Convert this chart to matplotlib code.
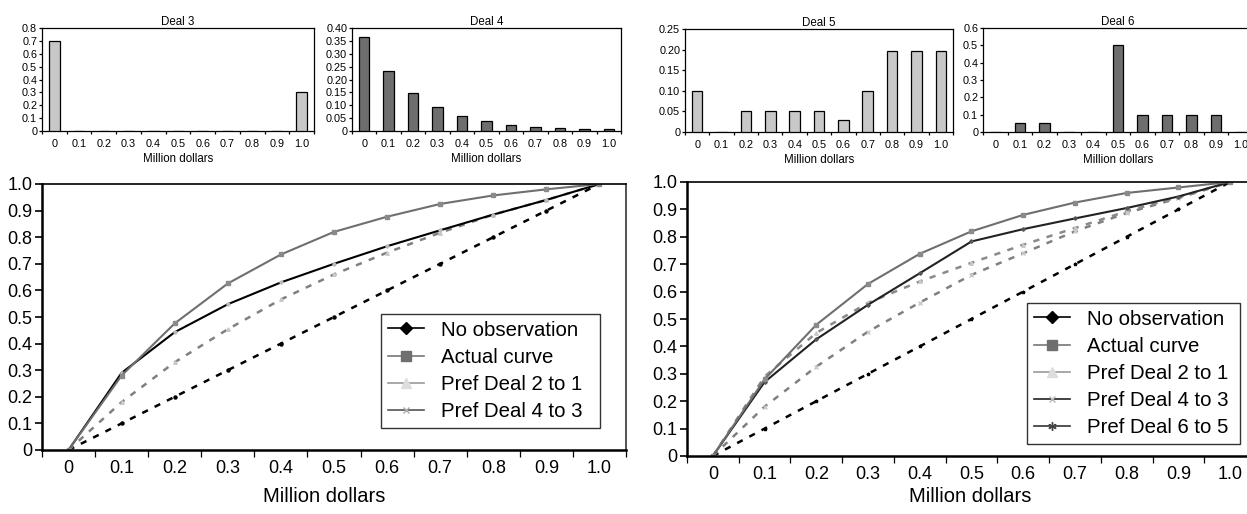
import matplotlib
matplotlib.use("Agg")
import matplotlib.pyplot as plt
from matplotlib.lines import Line2D
import numpy as np

plt.rcParams['font.family'] = ['Liberation Sans', 'DejaVu Sans']

W, H = 1247, 514

categories = ["0", "0.1", "0.2", "0.3", "0.4", "0.5", "0.6", "0.7", "0.8", "0.9", "1.0"]

# Probability distributions of the deals
deal3 = [0.70, 0, 0, 0, 0, 0, 0, 0, 0, 0, 0.30]
deal4 = [0.365, 0.234, 0.147, 0.093, 0.060, 0.038, 0.024, 0.016, 0.010, 0.007, 0.007]
deal5 = [0.10, 0, 0.05, 0.05, 0.05, 0.05, 0.03, 0.10, 0.197, 0.197, 0.197]
deal6 = [0, 0.05, 0.05, 0, 0, 0.50, 0.10, 0.10, 0.10, 0.10, 0]

# Utility curves, left panel
left_no_obs = [0, 0.29, 0.443, 0.548, 0.630, 0.700, 0.766, 0.826, 0.885, 0.940, 1.0]
left_actual = [0, 0.28, 0.476, 0.626, 0.735, 0.820, 0.877, 0.925, 0.957, 0.980, 1.0]
left_pref21 = [0, 0.18, 0.330, 0.454, 0.566, 0.660, 0.742, 0.817, 0.885, 0.940, 1.0]
left_pref43 = [0, 0.1, 0.2, 0.3, 0.4, 0.5, 0.6, 0.7, 0.8, 0.9, 1.0]

# Utility curves, right panel
right_no_obs = [0, 0.27, 0.426, 0.552, 0.667, 0.783, 0.828, 0.867, 0.905, 0.947, 1.0]
right_actual = [0, 0.28, 0.479, 0.628, 0.738, 0.820, 0.880, 0.925, 0.960, 0.980, 1.0]
right_pref21 = [0, 0.29, 0.449, 0.559, 0.637, 0.705, 0.771, 0.832, 0.893, 0.945, 1.0]
right_pref43 = [0, 0.18, 0.326, 0.454, 0.560, 0.661, 0.740, 0.820, 0.887, 0.941, 1.0]
right_pref65 = [0, 0.1, 0.2, 0.3, 0.4, 0.5, 0.6, 0.7, 0.8, 0.9, 1.0]

fig = plt.figure(figsize=(W / 100, H / 100), dpi=100)


def box(x0, y0, x1, y1):
    return [x0 / W, 1 - y1 / H, (x1 - x0) / W, (y1 - y0) / H]


def category_axis(ax, fs, ticklen, pad):
    n = len(categories)
    ax.set_xlim(-0.5, n - 0.5)
    ax.set_xticks(np.arange(n))
    ax.set_xticklabels(categories, fontsize=fs)
    ax.set_xticks(np.arange(-0.5, n, 1.0), minor=True)
    ax.tick_params(axis='x', which='major', length=0, pad=pad)
    ax.tick_params(axis='x', which='minor', length=ticklen, width=0.9, direction='out')


def bar_panel(rect, values, color, title, ymax, ystep, fmt):
    ax = fig.add_axes(box(*rect))
    x = np.arange(len(categories))
    ax.bar(x, values, width=0.43, color=color, edgecolor='black', linewidth=0.9, zorder=3)
    category_axis(ax, 7.8, 2.5, 6)
    ax.set_ylim(0, ymax)
    yt = np.arange(0, ymax + 1e-9, ystep)
    ax.set_yticks(yt)
    ax.set_yticklabels(["0"] + [fmt.format(v) for v in yt[1:]], fontsize=7.8)
    ax.tick_params(axis='y', length=2.5, width=0.9, pad=1)
    ax.set_title(title, fontsize=8.3, pad=2)
    ax.set_xlabel("Million dollars", fontsize=8.3, labelpad=2.5)
    for s in ax.spines.values():
        s.set_linewidth(0.9)
    return ax


bar_panel((42, 28, 314, 131), deal3, '#c8c8c8', 'Deal 3', 0.8, 0.1, "{:.1f}")
bar_panel((352, 28, 621, 131), deal4, '#6e6e6e', 'Deal 4', 0.40, 0.05, "{:.2f}")
bar_panel((685, 29, 953, 132), deal5, '#c8c8c8', 'Deal 5', 0.25, 0.05, "{:.2f}")
bar_panel((983, 28, 1253, 132), deal6, '#6e6e6e', 'Deal 6', 0.6, 0.1, "{:.1f}")


def main_panel(rect, series, legend_entries, legend_corner, xlabel_pos, tail):
    ax = fig.add_axes(box(*rect))
    x = np.arange(len(categories))
    for vals, kw in series:
        ax.plot(x, vals, **kw)
    category_axis(ax, 13, 5, 7)
    ax.set_ylim(0, 1.0)
    yt = np.round(np.arange(0, 1.01, 0.1), 1)
    ax.set_yticks(yt)
    ax.set_yticklabels(["0"] + ["{:.1f}".format(v) for v in yt[1:]], fontsize=13)
    ax.tick_params(axis='y', length=5, width=1.2, pad=2)
    fig.text(xlabel_pos[0] / W, 1 - xlabel_pos[1] / H, "Million dollars",
             fontsize=14.5, ha='center', va='center')
    ax.spines['left'].set_linewidth(1.8)
    ax.spines['bottom'].set_linewidth(1.8)
    ax.spines['top'].set_linewidth(1.2)
    ax.spines['right'].set_linewidth(1.2)
    ax.spines['right'].set_color('#333333')
    handles = [Line2D([], [], **h) for h in legend_entries]
    labels = [h.pop('label') + tail for h in legend_entries]
    leg = ax.legend(handles, labels, loc='upper left',
                    bbox_to_anchor=(legend_corner[0] / W, 1 - legend_corner[1] / H),
                    bbox_transform=fig.transFigure,
                    fontsize=14.7, frameon=True, fancybox=False, edgecolor='black',
                    handlelength=1.8, handletextpad=0.8, labelspacing=0.4,
                    borderpad=0.32, borderaxespad=0)
    leg.get_frame().set_linewidth(1.0)
    return ax


def entry(label, color, marker, mcolor, ms):
    return dict(label=label, color=color, lw=1.2, marker=marker,
                markerfacecolor=mcolor, markeredgecolor=mcolor, markersize=ms)


left_series = [
    (left_pref43, dict(color='black', lw=1.8, ls=(0, (2.5, 3)), marker='o', ms=2.2, mfc='black', mec='black')),
    (left_pref21, dict(color='#808080', lw=1.8, ls=(0, (2.5, 3)), marker='^', ms=2.5, mfc='#c8c8c8', mec='#c8c8c8')),
    (left_no_obs, dict(color='black', lw=1.5, marker='D', ms=1.8, mfc='#bbbbbb', mec='#bbbbbb')),
    (left_actual, dict(color='#6f6f6f', lw=1.5, marker='s', ms=2.2, mfc='#8a8a8a', mec='#8a8a8a')),
]
left_legend = [
    entry("No observation", 'black', 'D', 'black', 6),
    entry("Actual curve", '#777777', 's', '#6f6f6f', 7),
    entry("Pref Deal 2 to 1", '#999999', '^', '#dddddd', 7),
    entry("Pref Deal 4 to 3", '#555555', 'x', '#aaaaaa', 4),
]
main_panel((42, 184, 626, 450), left_series, left_legend, (381, 314), (324, 497), "  ")

right_series = [
    (right_pref65, dict(color='black', lw=1.8, ls=(0, (2.5, 3)), marker='*', ms=2.5, mfc='black', mec='black')),
    (right_pref43, dict(color='#808080', lw=1.8, ls=(0, (2.5, 3)), marker='x', ms=2.5, mfc='#c8c8c8', mec='#c8c8c8')),
    (right_pref21, dict(color='#8a8a8a', lw=1.8, ls=(0, (2.5, 3)), marker='^', ms=2.5, mfc='#c8c8c8', mec='#c8c8c8')),
    (right_no_obs, dict(color='#222222', lw=1.5, marker='D', ms=1.8, mfc='#555555', mec='#555555')),
    (right_actual, dict(color='#6f6f6f', lw=1.5, marker='s', ms=2.2, mfc='#8a8a8a', mec='#8a8a8a')),
]
right_legend = [
    entry("No observation", 'black', 'D', 'black', 6),
    entry("Actual curve", '#777777', 's', '#6f6f6f', 7),
    entry("Pref Deal 2 to 1", '#999999', '^', '#dddddd', 7),
    entry("Pref Deal 4 to 3", '#222222', 'x', '#bbbbbb', 4),
    entry("Pref Deal 6 to 5", '#333333', (6, 2, 0), '#444444', 6),
]
main_panel((687, 182, 1256, 456), right_series, right_legend, (1027, 303), (970, 497), " ")

fig.savefig("out.png", dpi=100)
